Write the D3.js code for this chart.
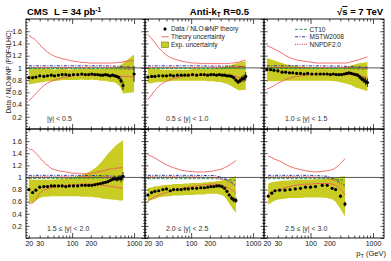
<!DOCTYPE html>
<html>
<head>
<meta charset="utf-8">
<script src="https://cdn.jsdelivr.net/npm/d3@7"></script>
<style>
  body { margin: 0; background: #fff; }
  text { font-family: "Liberation Sans", Arial, Helvetica, sans-serif; }
</style>
</head>
<body>
<svg id="chart" width="391" height="261"></svg>
<script>
// one panel per rapidity bin
const binLabels = ["|y| < 0.5", "0.5 \u2264 |y| < 1.0", "1.0 \u2264 |y| < 1.5",
                   "1.5 \u2264 |y| < 2.0", "2.0 \u2264 |y| < 2.5", "2.5 \u2264 |y| < 3.0"];
const xTickLabels = [20, 30, 100, 200, 1000];
const yTickLabels = [0.2, 0.4, 0.6, 0.8, 1, 1.2, 1.4, 1.6];

// jet pT (GeV) of the data points
const ptGeV = [
  [20,23,26,30,35,40,46,52,60,69,79,90,105,123,143,163,185,208,232,258,286,315,346,378,412,449,487,527,570,615,662,1000],
  [20,23,26,30,35,40,46,52,60,69,79,90,105,123,143,163,185,208,232,258,286,315,346,378,412,449,487,527,570,615,662,711,760],
  [20,23,26,30,35,40,46,52,60,69,79,90,105,123,143,163,185,208,232,258,286,315,346,378,412,449,487,527,570,615,662,711,760,815],
  [20,23,26,30,35,40,46,52,60,69,79,90,105,123,143,163,185,208,232,258,286,315,346,378,412,449,487,527,570,615,662],
  [20,23,26,30,35,40,46,52,60,69,79,90,105,123,143,163,185,208,232,258,286,315,346,378,412,449,487,527],
  [21,24,27,32,39,47,57,69,83,100,120,154,185,222,252,302,356]
];
// data / NLO x NP
const ratio = [
  [0.84,0.84,0.85,0.87,0.86,0.87,0.88,0.87,0.88,0.89,0.89,0.88,0.89,0.89,0.90,0.89,0.89,0.90,0.89,0.89,0.88,0.88,0.89,0.88,0.87,0.88,0.87,0.86,0.84,0.79,0.71,0.90],
  [0.85,0.86,0.86,0.87,0.87,0.87,0.88,0.87,0.88,0.88,0.88,0.88,0.89,0.88,0.89,0.89,0.88,0.89,0.89,0.88,0.89,0.88,0.88,0.87,0.87,0.86,0.84,0.80,0.77,0.79,0.82,0.83,0.86],
  [0.97,0.97,0.96,0.95,0.93,0.93,0.92,0.92,0.91,0.91,0.90,0.91,0.90,0.90,0.90,0.90,0.90,0.89,0.90,0.89,0.89,0.89,0.90,0.91,0.92,0.91,0.90,0.89,0.88,0.85,0.82,0.80,0.78,0.76],
  [0.80,0.75,0.79,0.84,0.85,0.85,0.86,0.86,0.86,0.86,0.85,0.86,0.86,0.86,0.87,0.87,0.87,0.87,0.88,0.89,0.90,0.91,0.92,0.93,0.95,0.97,0.98,0.97,0.99,0.98,1.02],
  [0.71,0.75,0.77,0.78,0.80,0.81,0.78,0.80,0.80,0.80,0.81,0.81,0.82,0.82,0.83,0.83,0.84,0.85,0.85,0.86,0.86,0.85,0.82,0.77,0.71,0.66,0.63,0.62],
  [0.69,0.74,0.78,0.79,0.79,0.80,0.81,0.82,0.84,0.84,0.85,0.87,0.87,0.82,0.80,0.69,0.56]
];
// statistical error bars
const statErr = [
  [0.01,0.01,0.01,0.01,0.01,0.01,0.01,0.01,0.01,0.01,0.01,0.01,0.01,0.01,0.01,0.01,0.01,0.01,0.01,0.01,0.01,0.01,0.01,0.012,0.014,0.016,0.02,0.025,0.03,0.045,0.07,0.13],
  [0.01,0.01,0.01,0.01,0.01,0.01,0.01,0.01,0.01,0.01,0.01,0.01,0.01,0.01,0.01,0.01,0.01,0.01,0.01,0.01,0.01,0.01,0.012,0.014,0.016,0.02,0.025,0.03,0.035,0.04,0.05,0.06,0.07],
  [0.01,0.01,0.01,0.01,0.01,0.01,0.01,0.01,0.01,0.01,0.01,0.01,0.01,0.01,0.01,0.01,0.01,0.01,0.01,0.01,0.01,0.01,0.01,0.012,0.014,0.016,0.02,0.025,0.03,0.035,0.04,0.05,0.06,0.07],
  [0.015,0.015,0.01,0.01,0.01,0.01,0.01,0.01,0.01,0.01,0.01,0.01,0.01,0.01,0.01,0.01,0.01,0.01,0.01,0.01,0.01,0.01,0.015,0.02,0.025,0.03,0.035,0.04,0.05,0.06,0.07],
  [0.01,0.01,0.01,0.01,0.01,0.01,0.01,0.01,0.01,0.01,0.01,0.01,0.01,0.01,0.01,0.01,0.01,0.01,0.01,0.01,0.012,0.015,0.02,0.025,0.03,0.035,0.04,0.045],
  [0.012,0.01,0.01,0.01,0.01,0.01,0.01,0.01,0.01,0.01,0.01,0.01,0.012,0.015,0.02,0.03,0.04]
];
// experimental uncertainty band, lower / upper edge
const expLo = [
  [0.73,0.74,0.75,0.76,0.77,0.78,0.78,0.79,0.79,0.80,0.80,0.80,0.80,0.80,0.81,0.80,0.80,0.81,0.80,0.80,0.79,0.79,0.79,0.78,0.77,0.77,0.76,0.74,0.71,0.66,0.58,0.60],
  [0.75,0.75,0.76,0.77,0.77,0.78,0.78,0.79,0.79,0.79,0.79,0.79,0.79,0.79,0.79,0.79,0.78,0.78,0.78,0.77,0.77,0.76,0.75,0.74,0.72,0.70,0.68,0.66,0.64,0.63,0.64,0.64,0.64],
  [0.78,0.78,0.78,0.78,0.79,0.79,0.79,0.79,0.79,0.79,0.79,0.79,0.79,0.79,0.79,0.79,0.79,0.79,0.78,0.78,0.77,0.76,0.75,0.74,0.73,0.72,0.70,0.68,0.67,0.66,0.65,0.64,0.63,0.62],
  [0.60,0.58,0.62,0.66,0.68,0.68,0.69,0.69,0.69,0.69,0.69,0.69,0.69,0.69,0.68,0.68,0.68,0.68,0.67,0.67,0.66,0.65,0.65,0.64,0.64,0.63,0.63,0.63,0.62,0.62,0.62],
  [0.60,0.63,0.65,0.67,0.68,0.69,0.69,0.70,0.70,0.70,0.71,0.71,0.71,0.72,0.72,0.72,0.73,0.73,0.73,0.73,0.72,0.71,0.68,0.63,0.57,0.51,0.46,0.42],
  [0.55,0.59,0.62,0.64,0.65,0.66,0.66,0.66,0.67,0.67,0.67,0.67,0.66,0.64,0.60,0.48,0.36]
];
const expHi = [
  [1.00,0.99,0.99,0.99,0.98,0.98,0.98,0.97,0.98,0.98,0.98,0.97,0.98,0.98,0.99,0.98,0.98,0.99,0.98,0.98,0.98,0.98,0.99,0.99,1.00,1.00,1.01,1.02,1.03,1.05,1.08,1.22],
  [0.99,0.98,0.98,0.98,0.97,0.97,0.97,0.97,0.97,0.97,0.97,0.97,0.98,0.98,0.98,0.98,0.98,0.98,0.99,0.99,1.00,1.01,1.02,1.03,1.04,1.05,1.06,1.07,1.08,1.09,1.10,1.10,1.11],
  [1.16,1.14,1.12,1.10,1.08,1.06,1.05,1.04,1.03,1.02,1.02,1.01,1.01,1.01,1.00,1.00,1.00,1.00,1.00,1.00,1.00,1.00,1.01,1.02,1.03,1.04,1.05,1.06,1.07,1.08,1.08,1.09,1.09,1.10],
  [0.97,0.96,0.96,0.96,0.96,0.96,0.96,0.97,0.97,0.98,0.98,0.99,1.00,1.02,1.04,1.06,1.09,1.12,1.15,1.19,1.24,1.29,1.34,1.39,1.43,1.47,1.51,1.54,1.57,1.59,1.62],
  [0.82,0.84,0.85,0.86,0.87,0.88,0.88,0.89,0.89,0.89,0.90,0.90,0.91,0.91,0.91,0.92,0.92,0.93,0.93,0.94,0.94,0.95,0.96,0.97,0.98,1.00,1.01,1.02],
  [0.90,0.92,0.93,0.94,0.95,0.95,0.96,0.96,0.96,0.96,0.97,0.97,0.98,0.99,1.00,1.01,1.02]
];
// theory (scale/PDF/NP) uncertainty, lower / upper red curve
const theoryLo = [
  [0.46,0.52,0.58,0.65,0.71,0.75,0.78,0.80,0.82,0.84,0.85,0.86,0.87,0.88,0.88,0.88,0.88,0.88,0.88,0.88,0.88,0.88,0.88,0.88,0.88,0.88,0.87,0.87,0.87,0.86,0.86,0.85],
  [0.48,0.56,0.63,0.70,0.75,0.78,0.81,0.83,0.84,0.86,0.87,0.87,0.88,0.88,0.88,0.88,0.88,0.88,0.88,0.88,0.88,0.88,0.88,0.88,0.88,0.88,0.87,0.86,0.85,0.84,0.83,0.82,0.81],
  [0.65,0.68,0.71,0.75,0.78,0.81,0.83,0.85,0.86,0.87,0.88,0.88,0.89,0.89,0.89,0.89,0.89,0.89,0.89,0.89,0.89,0.89,0.89,0.89,0.89,0.89,0.88,0.88,0.87,0.87,0.86,0.86,0.85,0.85],
  [0.57,0.58,0.64,0.74,0.79,0.81,0.83,0.84,0.85,0.86,0.87,0.87,0.88,0.88,0.89,0.89,0.89,0.89,0.88,0.88,0.87,0.87,0.86,0.86,0.85,0.85,0.84,0.84,0.83,0.83,0.82],
  [0.62,0.65,0.68,0.71,0.73,0.75,0.77,0.79,0.80,0.82,0.83,0.84,0.85,0.86,0.87,0.88,0.88,0.89,0.89,0.89,0.88,0.87,0.86,0.84,0.82,0.79,0.77,0.74],
  [0.73,0.76,0.78,0.80,0.83,0.85,0.87,0.88,0.89,0.89,0.90,0.90,0.90,0.89,0.87,0.81,0.71]
];
const theoryHi = [
  [1.53,1.49,1.45,1.38,1.31,1.26,1.22,1.19,1.17,1.15,1.14,1.12,1.11,1.10,1.09,1.09,1.08,1.08,1.08,1.08,1.08,1.08,1.08,1.08,1.08,1.08,1.08,1.09,1.09,1.09,1.10,1.12],
  [1.55,1.48,1.41,1.33,1.26,1.21,1.17,1.15,1.13,1.11,1.10,1.09,1.08,1.08,1.07,1.07,1.07,1.07,1.07,1.07,1.07,1.07,1.07,1.07,1.07,1.08,1.08,1.09,1.09,1.10,1.11,1.12,1.13],
  [1.36,1.34,1.31,1.28,1.24,1.20,1.17,1.15,1.13,1.12,1.11,1.10,1.09,1.08,1.08,1.08,1.08,1.08,1.08,1.08,1.08,1.08,1.08,1.08,1.09,1.10,1.11,1.12,1.13,1.14,1.15,1.16,1.17,1.18],
  [1.47,1.45,1.40,1.33,1.25,1.20,1.15,1.13,1.11,1.10,1.09,1.08,1.07,1.07,1.06,1.06,1.06,1.07,1.08,1.09,1.10,1.11,1.12,1.13,1.14,1.14,1.15,1.15,1.16,1.16,1.17],
  [1.37,1.35,1.32,1.28,1.24,1.21,1.18,1.16,1.14,1.12,1.11,1.10,1.10,1.09,1.09,1.09,1.10,1.10,1.11,1.12,1.13,1.14,1.16,1.18,1.20,1.23,1.25,1.28],
  [1.35,1.33,1.30,1.27,1.22,1.18,1.15,1.13,1.11,1.10,1.09,1.10,1.11,1.13,1.16,1.23,1.31]
];
// alternative PDF sets relative to PDF4LHC
const pdfPt = [
  [20,100,300,500,700,1000],
  [20,100,300,500,760],
  [20,100,300,500,815],
  [20,100,300,500,662],
  [20,100,250,350,450,527],
  [21,100,185,250,356]
];
const ct10 = [
  [0.99,0.99,0.99,0.985,0.98,0.975],
  [0.99,0.99,0.99,0.99,0.985],
  [0.99,0.99,0.99,0.985,0.98],
  [0.985,0.985,0.99,0.99,0.99],
  [0.98,0.98,0.98,0.97,0.96,0.95],
  [0.98,0.98,0.98,0.97,0.95]
];
const mstw = [
  [1.035,1.035,1.035,1.03,1.02,1.01],
  [1.035,1.035,1.03,1.03,1.02],
  [1.035,1.035,1.03,1.02,1.01],
  [1.035,1.035,1.03,1.02,1.01],
  [1.035,1.035,1.03,0.98,0.92,0.87],
  [1.035,1.035,1.02,0.97,0.87]
];
const nnpdf = [
  [1.01,1.01,1.015,1.01,1.0,0.99],
  [1.01,1.01,1.015,1.02,1.02],
  [1.01,1.01,1.01,1.0,0.99],
  [1.01,1.01,1.01,1.0,0.99],
  [1.01,1.01,1.0,0.96,0.90,0.85],
  [1.01,1.01,0.99,0.94,0.83]
];

const colEdges = [26, 145, 264, 384];
const rowEdges = [19, 129, 238];
const xDomain = [18, 1500];
const yDomain = [0, 1.8];

const yellow = "#c9cc22";
const theoryRed = "#f05a5a";
const pdfStyles = [
  {vals: ct10, color: "#2f9a4c", dash: "3,1.5", name: "CT10"},
  {vals: mstw, color: "#2b3c9c", dash: "3,1.5,1,1.5", name: "MSTW2008"},
  {vals: nnpdf, color: "#d23a3a", dash: "1,1.2", name: "NNPDF2.0"}
];

const svg = d3.select("#chart");
const defs = svg.append("defs");

//small helper: put a d3 axis somewhere, no domain line
function put_axis(axis, tx, ty) {
  return svg.append("g")
    .attr("transform", "translate(" + tx + "," + ty + ")")
    .call(axis)
    .call(s => s.select(".domain").remove())
    .call(s => s.selectAll("line").attr("stroke", "#000").attr("stroke-width", 0.7));
}

binLabels.forEach((label, i) => {
  const col = i % 3, row = Math.floor(i / 3);
  const x0 = colEdges[col], x1 = colEdges[col + 1];
  const y0 = rowEdges[row], y1 = rowEdges[row + 1];
  const x = d3.scaleLog().domain(xDomain).range([x0, x1]);
  const y = d3.scaleLinear().domain(yDomain).range([y1, y0]);

  defs.append("clipPath").attr("id", "clip" + i)
    .append("rect").attr("x", x0).attr("y", y0).attr("width", x1 - x0).attr("height", y1 - y0);
  const g = svg.append("g").attr("clip-path", "url(#clip" + i + ")");

  const idx = d3.range(ptGeV[i].length);
  const px = j => x(ptGeV[i][j]);

  // exp. uncertainty band
  g.append("path")
    .attr("d", d3.area().x(px).y0(j => y(expLo[i][j])).y1(j => y(expHi[i][j]))(idx))
    .attr("fill", yellow);

  // reference line at 1
  g.append("line").attr("x1", x0).attr("x2", x1).attr("y1", y(1)).attr("y2", y(1))
    .attr("stroke", "#444").attr("stroke-width", 0.9);

  // PDF curves
  const pIdx = d3.range(pdfPt[i].length);
  pdfStyles.forEach(s => {
    g.append("path")
      .attr("d", d3.line().x(j => x(pdfPt[i][j])).y(j => y(s.vals[i][j]))(pIdx))
      .attr("fill", "none").attr("stroke", s.color).attr("stroke-width", 1)
      .attr("stroke-dasharray", s.dash);
  });

  // theory uncertainty
  [theoryLo, theoryHi].forEach(arr => {
    g.append("path")
      .attr("d", d3.line().curve(d3.curveMonotoneX).x(px).y(j => y(arr[i][j]))(idx))
      .attr("fill", "none").attr("stroke", theoryRed).attr("stroke-width", 0.9);
  });

  // data points with error bars
  g.selectAll("line.err").data(idx).join("line").attr("class", "err")
    .attr("x1", px).attr("x2", px)
    .attr("y1", j => y(ratio[i][j] - statErr[i][j]))
    .attr("y2", j => y(ratio[i][j] + statErr[i][j]))
    .attr("stroke", "#000").attr("stroke-width", 0.8);
  g.selectAll("circle").data(idx).join("circle")
    .attr("cx", px).attr("cy", j => y(ratio[i][j])).attr("r", 1.6).attr("fill", "#000");

  // frame + inside ticks
  svg.append("rect").attr("x", x0).attr("y", y0).attr("width", x1 - x0).attr("height", y1 - y0)
    .attr("fill", "none").attr("stroke", "#000").attr("stroke-width", 0.9);

  const xMajor = [100, 1000];
  const xMinor = x.ticks().filter(v => !xMajor.includes(v));
  const yMajor = d3.range(0, 1.81, 0.2);
  const yMinor = d3.range(0, 1.81, 0.05).filter(v => Math.abs(v / 0.2 - Math.round(v / 0.2)) > 0.01);

  put_axis(d3.axisBottom(x).tickValues(xMajor).tickSize(-5).tickFormat(""), 0, y1);
  put_axis(d3.axisBottom(x).tickValues(xMinor).tickSize(-2.5).tickFormat(""), 0, y1);
  put_axis(d3.axisTop(x).tickValues(xMajor).tickSize(-5).tickFormat(""), 0, y0);
  put_axis(d3.axisTop(x).tickValues(xMinor).tickSize(-2.5).tickFormat(""), 0, y0);
  put_axis(d3.axisLeft(y).tickValues(yMajor).tickSize(-3.5).tickFormat(""), x0, 0);
  put_axis(d3.axisLeft(y).tickValues(yMinor).tickSize(-1.8).tickFormat(""), x0, 0);
  put_axis(d3.axisRight(y).tickValues(yMajor).tickSize(-3.5).tickFormat(""), x1, 0);
  put_axis(d3.axisRight(y).tickValues(yMinor).tickSize(-1.8).tickFormat(""), x1, 0);

  if (row === 1) {
    put_axis(d3.axisBottom(x).tickValues(xTickLabels).tickSize(0).tickPadding(3.5).tickFormat(d3.format("d")), 0, y1)
      .attr("font-size", 7).attr("font-family", null)
      .selectAll("text").attr("fill", "#111");
  }
  if (col === 0) {
    put_axis(d3.axisLeft(y).tickValues(yTickLabels).tickSize(0).tickPadding(4)
      .tickFormat(d => d === 1 ? "1" : d3.format(".1f")(d)), x0, 0)
      .attr("font-size", 7).attr("font-family", null)
      .selectAll("text").attr("fill", "#111");
  }

  // rapidity label
  svg.append("text").attr("x", x0 + 21).attr("y", row === 0 ? 120.5 : 230.5)
    .attr("font-size", 7).attr("fill", "#333").text(label);
});

// titles
svg.append("text").attr("x", 27).attr("y", 15).attr("font-size", 9.5).attr("font-weight", "bold").text("CMS");
const t1 = svg.append("text").attr("x", 54).attr("y", 15).attr("font-size", 9.5).attr("font-weight", "bold");
t1.append("tspan").text("L = 34 pb");
t1.append("tspan").attr("dy", -3.5).attr("font-size", 6.5).text("-1");

const t2 = svg.append("text").attr("x", 249).attr("y", 15).attr("font-size", 9.5)
  .attr("font-weight", "bold").attr("text-anchor", "end");
t2.append("tspan").text("Anti-k");
t2.append("tspan").attr("dy", 2).attr("font-size", 6.5).text("T");
t2.append("tspan").attr("dy", -2).text(" R=0.5");

const t3 = svg.append("text").attr("x", 383).attr("y", 15).attr("font-size", 9.5)
  .attr("font-weight", "bold").attr("text-anchor", "end");
t3.append("tspan").text("\u221A");
t3.append("tspan").attr("style", "text-decoration: overline").text("s");
t3.append("tspan").text(" = 7 TeV");

// axis titles
svg.append("text").attr("transform", "translate(11,72) rotate(-90)")
  .attr("text-anchor", "middle").attr("font-size", 6.5).attr("fill", "#222")
  .text("Data / NLO\u2297NP (PDF4LHC)");
const xt = svg.append("text").attr("x", 386).attr("y", 256).attr("text-anchor", "end")
  .attr("font-size", 7.5).attr("fill", "#222");
xt.append("tspan").text("p");
xt.append("tspan").attr("dy", 2).attr("font-size", 5.5).text("T");
xt.append("tspan").attr("dy", -2).text(" (GeV)");

// legend, middle panel
const lg1 = svg.append("g").attr("font-size", 6.5).attr("fill", "#222");
lg1.append("circle").attr("cx", 165).attr("cy", 29).attr("r", 1.6).attr("fill", "#000");
lg1.append("line").attr("x1", 165).attr("x2", 165).attr("y1", 27.5).attr("y2", 30.5).attr("stroke", "#000").attr("stroke-width", 0.8);
lg1.append("text").attr("x", 171).attr("y", 31.3).text("Data / NLO\u2297NP theory");
lg1.append("line").attr("x1", 161.5).attr("x2", 168.5).attr("y1", 36.8).attr("y2", 36.8).attr("stroke", theoryRed).attr("stroke-width", 0.9);
lg1.append("text").attr("x", 171).attr("y", 39.1).text("Theory uncertainty");
lg1.append("rect").attr("x", 161.5).attr("y", 42).attr("width", 7).attr("height", 5.5)
  .attr("fill", yellow).attr("stroke", "#7f7f10").attr("stroke-width", 0.6);
lg1.append("text").attr("x", 171).attr("y", 47).text("Exp. uncertainty");

// legend, right panel
const lg2 = svg.append("g").attr("font-size", 6.5).attr("fill", "#222");
pdfStyles.forEach((s, k) => {
  const ly = 29.3 + k * 7.5;
  lg2.append("line").attr("x1", 295).attr("x2", 307).attr("y1", ly).attr("y2", ly)
    .attr("stroke", s.color).attr("stroke-width", 1).attr("stroke-dasharray", s.dash);
  lg2.append("text").attr("x", 309.5).attr("y", ly + 2.3).text(s.name);
});
</script>
</body>
</html>
